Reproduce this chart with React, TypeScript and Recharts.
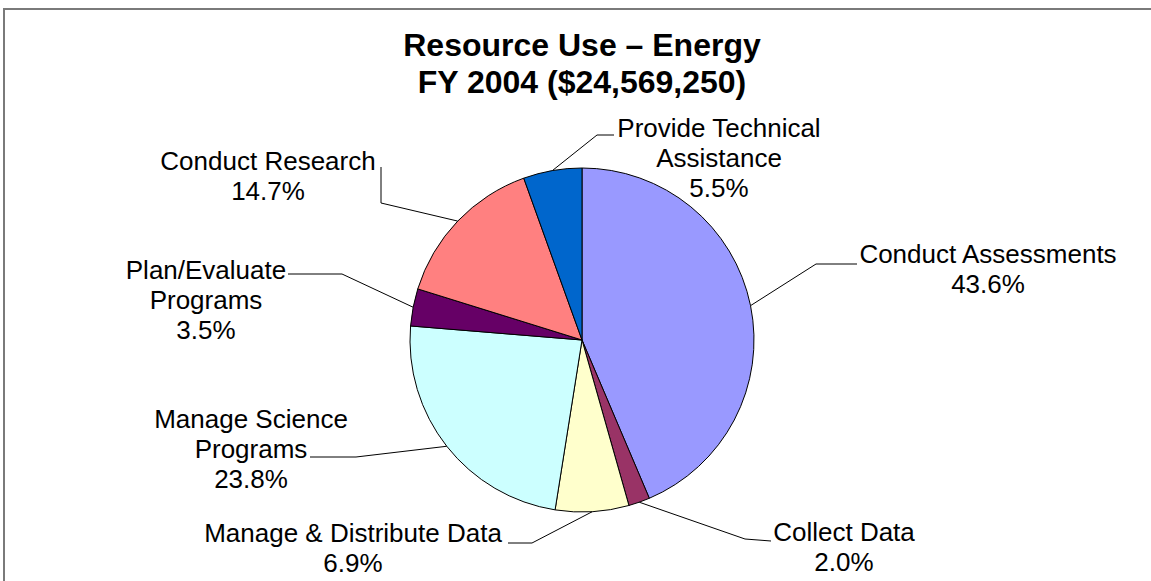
import { PieChart, Pie, Cell } from "recharts";

const CATEGORIES = [
  "Conduct Assessments",
  "Collect Data",
  "Manage & Distribute Data",
  "Manage Science Programs",
  "Plan/Evaluate Programs",
  "Conduct Research",
  "Provide Technical Assistance",
];
const SHARES = [43.6, 2.0, 6.9, 23.8, 3.5, 14.7, 5.5];
const LABEL_LINES = [
  ["Conduct Assessments"],
  ["Collect Data"],
  ["Manage & Distribute Data"],
  ["Manage Science", "Programs"],
  ["Plan/Evaluate", "Programs"],
  ["Conduct Research"],
  ["Provide Technical", "Assistance"],
];
const TITLE = ["Resource Use – Energy", "FY 2004 ($24,569,250)"];

const COLORS = ["#9999FF", "#993366", "#FFFFCC", "#CCFFFF", "#660066", "#FF8080", "#0066CC"];

// label layout, offsets from pie centre: text centre x, first baseline y, leader elbow + end
const LABEL_POS = [
  { x: 406, y: -77, elbow: [234, -76], end: [275, -76] },
  { x: 262, y: 201, elbow: [163, 199], end: [189, 201] },
  { x: -229, y: 202, elbow: [-50, 203], end: [-74, 203] },
  { x: -331, y: 88, elbow: [-226, 117], end: [-272, 117] },
  { x: -376, y: -61, elbow: [-240, -66], end: [-294, -66] },
  { x: -314, y: -170, elbow: [-201, -137], end: [-201, -173] },
  { x: 137, y: -203, elbow: [15, -205], end: [32, -205] },
];

const data = CATEGORIES.map((name, i) => ({ name, value: SHARES[i] }));

const FONT = "'Liberation Sans', Arial, Helvetica, sans-serif";
const RAD = Math.PI / 180;

function renderLabel(props: any) {
  const { cx, cy, midAngle, outerRadius, index } = props;
  const pos = LABEL_POS[index];
  const sx = cx + outerRadius * Math.cos(-midAngle * RAD);
  const sy = cy + outerRadius * Math.sin(-midAngle * RAD);
  const lines = [...LABEL_LINES[index], `${SHARES[index].toFixed(1)}%`];
  const pts = `${sx},${sy} ${cx + pos.elbow[0]},${cy + pos.elbow[1]} ${cx + pos.end[0]},${cy + pos.end[1]}`;
  return (
    <g key={`lbl-${index}`}>
      <polyline points={pts} fill="none" stroke="#000" strokeWidth={1} />
      <text
        x={cx + pos.x}
        y={cy + pos.y}
        textAnchor="middle"
        fontFamily={FONT}
        fontSize={26}
        fill="#000"
      >
        {lines.map((l, k) => (
          <tspan key={k} x={cx + pos.x} dy={k === 0 ? 0 : 30}>
            {l}
          </tspan>
        ))}
      </text>
    </g>
  );
}

export default function App() {
  return (
    <div
      style={{
        position: "absolute",
        left: 0,
        top: 0,
        width: 1151,
        height: 581,
        background: "#fff",
        overflow: "hidden",
      }}
    >
      <div style={{ position: "absolute", left: 3, top: 8, width: 1148, height: 2, background: "#7a7a7a" }} />
      <div style={{ position: "absolute", left: 3, top: 8, width: 2, height: 573, background: "#7a7a7a" }} />
      <div
        style={{
          position: "absolute",
          left: 0,
          top: 27,
          width: 1164,
          textAlign: "center",
          fontFamily: FONT,
          fontWeight: "bold",
          fontSize: 32,
          lineHeight: "37px",
          color: "#000",
        }}
      >
        {TITLE.map((t) => (
          <div key={t}>{t}</div>
        ))}
      </div>
      <div style={{ position: "absolute", left: 0, top: 0 }}>
        <PieChart width={1151} height={581} margin={{ top: 0, right: 0, bottom: 0, left: 0 }}>
          <Pie
            data={data}
            dataKey="value"
            nameKey="name"
            cx={582}
            cy={340}
            outerRadius={172}
            startAngle={90}
            endAngle={-270}
            stroke="#000"
            strokeWidth={1}
            label={renderLabel}
            labelLine={false}
            isAnimationActive={false}
          >
            {data.map((_, i) => (
              <Cell key={i} fill={COLORS[i]} />
            ))}
          </Pie>
        </PieChart>
      </div>
    </div>
  );
}
